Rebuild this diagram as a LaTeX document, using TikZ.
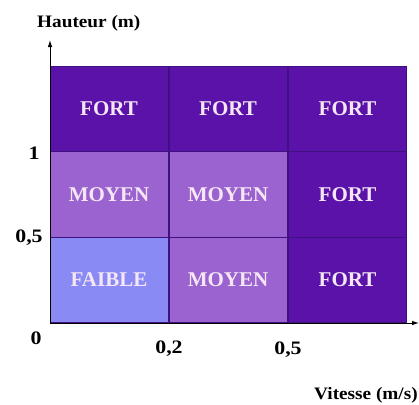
\documentclass[tikz,border=0pt]{standalone}
\usepackage{fontspec}
\setmainfont{Liberation Serif}
\usetikzlibrary{arrows.meta}
\definecolor{cdark}{HTML}{5A12A8}
\definecolor{cmid}{HTML}{9B63CF}
\definecolor{clight}{HTML}{8A8AF5}
\definecolor{ctext}{HTML}{F4E6F4}
\definecolor{cline}{HTML}{3F1080}
\tikzset{
  cell/.style={draw=cline, line width=0.8pt, minimum width=118pt, minimum height=85.7pt,
    inner sep=0pt, text=ctext, font=\fontsize{21}{25}\selectfont\bfseries},
  tick/.style={inner sep=0pt, xscale=1.15, font=\fontsize{19}{22}\selectfont\bfseries},
  axislabel/.style={inner sep=0pt, xscale=1.1, font=\fontsize{17.5}{21}\selectfont\bfseries},
  axis/.style={line width=0.9pt, -{Latex[length=7pt,width=4.5pt]}}
}
\begin{document}
\begin{tikzpicture}[x=1pt,y=-1pt]
\useasboundingbox (0,0) rectangle (419,404);
% row 1 (top)
\node[cell, fill=cdark] (c11) at (109,109) {FORT};
\node[cell, fill=cdark] (c12) at (228,109) {FORT};
\node[cell, fill=cdark] (c13) at (347.5,109) {FORT};
% row 2
\node[cell, fill=cmid] (c21) at (109,194.5) {MOYEN};
\node[cell, fill=cmid] (c22) at (228,194.5) {MOYEN};
\node[cell, fill=cdark] (c23) at (347.5,194.5) {FORT};
% row 3
\node[cell, fill=clight] (c31) at (109,280) {FAIBLE};
\node[cell, fill=cmid] (c32) at (228,280) {MOYEN};
\node[cell, fill=cdark] (c33) at (347.5,280) {FORT};
% axes
\coordinate (O) at (50,323);
\coordinate (ytip) at (50,40);
\coordinate (xtip) at (419,323);
\draw[axis] (O) -- (ytip);
\draw[axis] (O) -- (xtip);
% labels
\node[axislabel, anchor=west] (hl) at (37,23) {Hauteur (m)};
\node[axislabel, anchor=west] (vl) at (314,395) {Vitesse (m/s)};
\node[tick] (t1) at (34,153) {1};
\node[tick] (t05) at (29,238) {0,5};
\node[tick] (t0) at (36,338) {0};
\node[tick] (t02) at (169,349) {0,2};
\node[tick] (tx05) at (288,350) {0,5};
\end{tikzpicture}
\end{document}
